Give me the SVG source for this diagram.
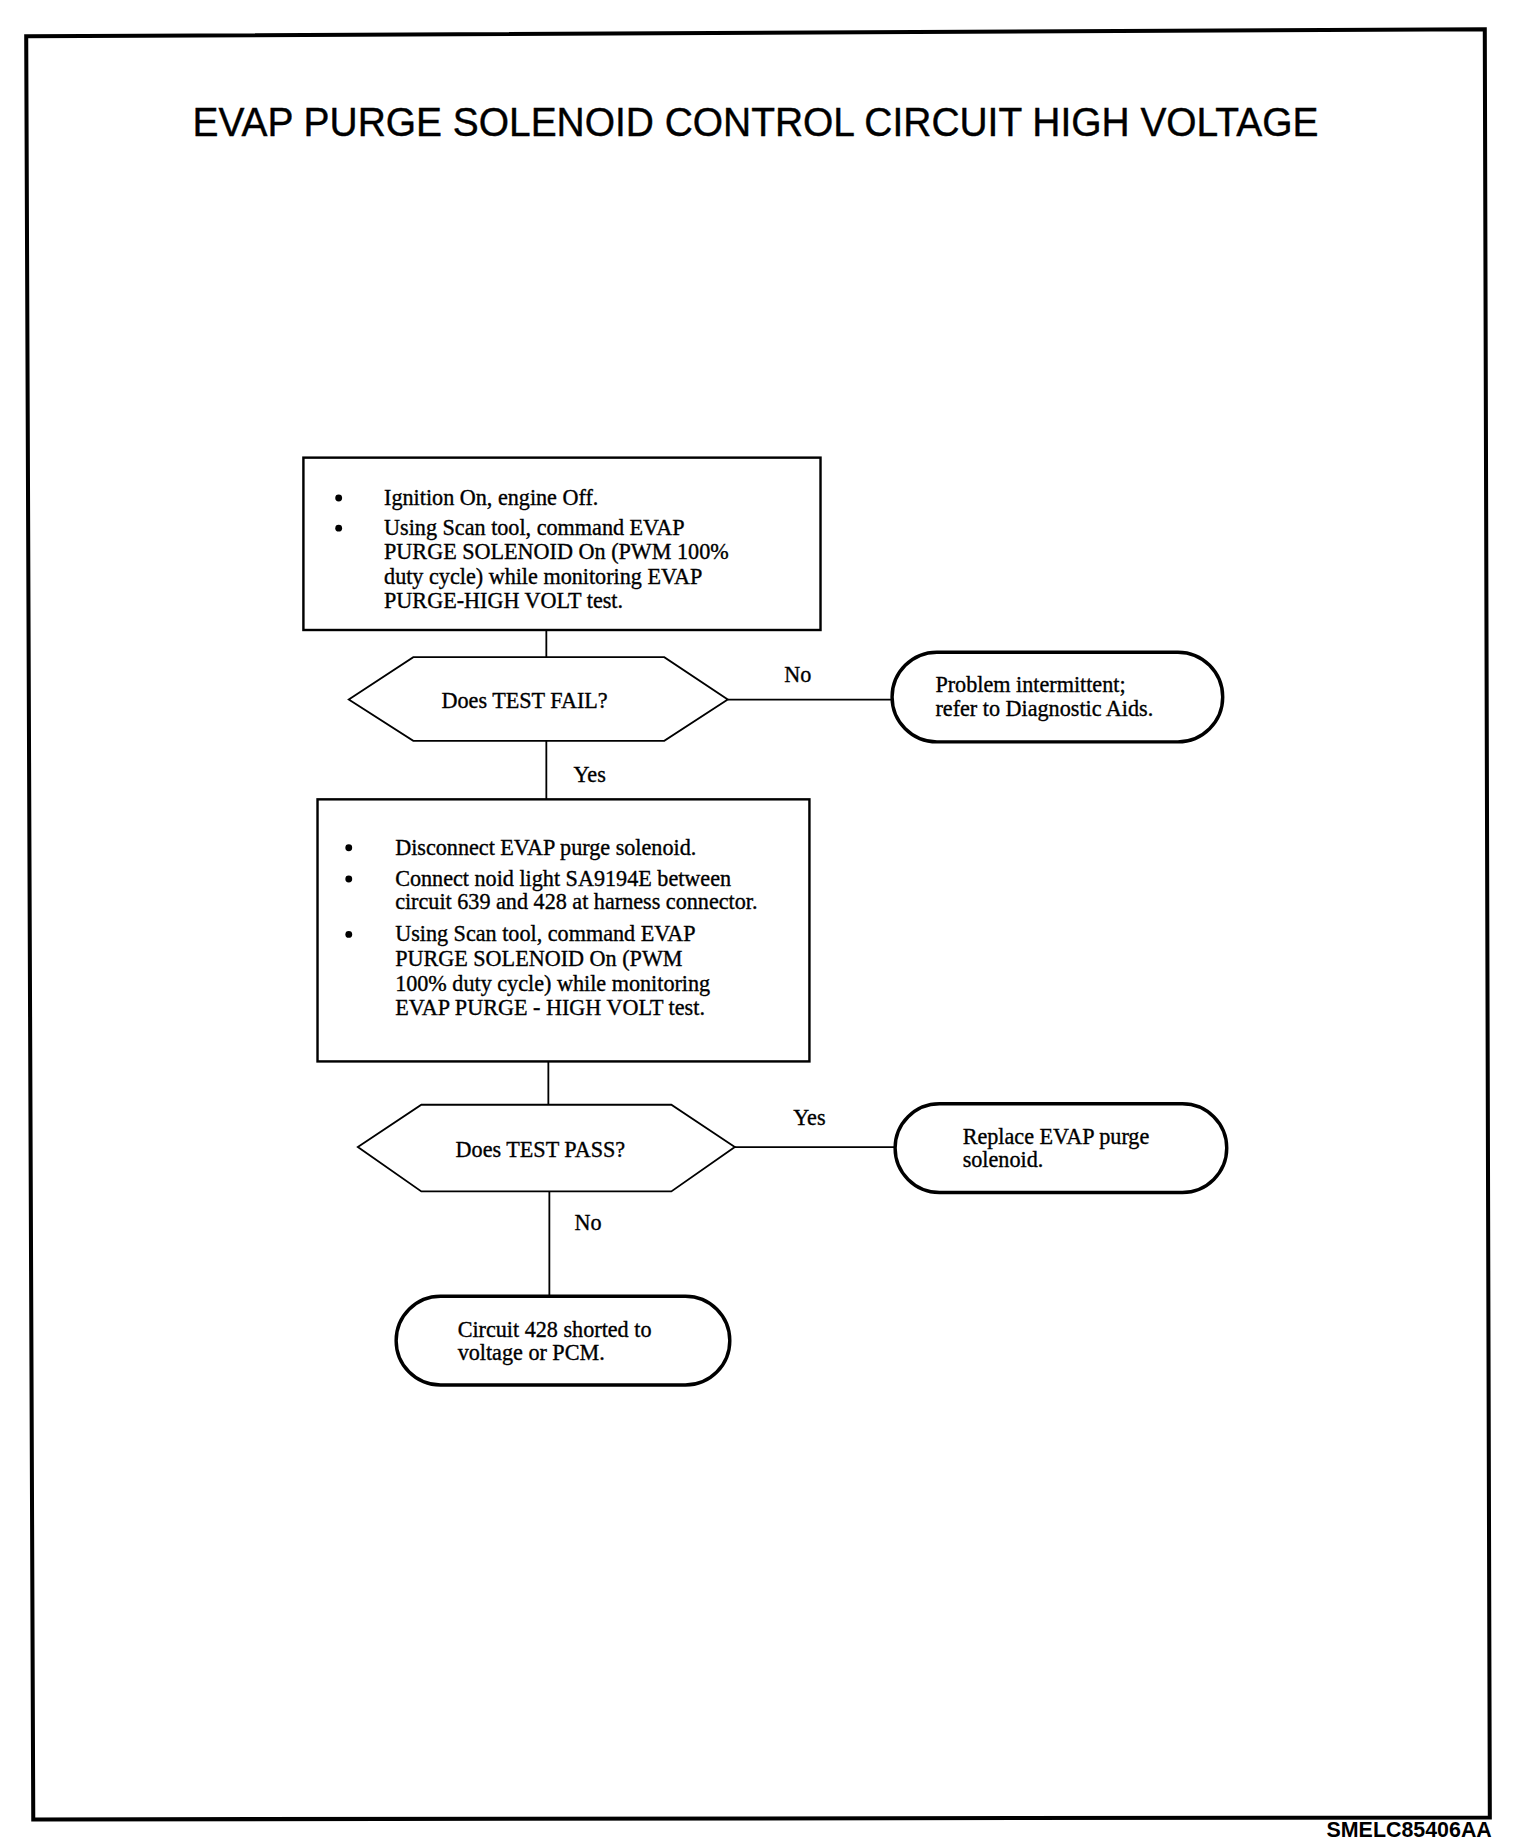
<svg xmlns="http://www.w3.org/2000/svg" width="1520" height="1848" viewBox="0 0 1520 1848">
<style>
.box{fill:none;stroke:#000;stroke-width:2.4}
.hex{fill:none;stroke:#000;stroke-width:1.8}
.oval{fill:none;stroke:#000;stroke-width:3.4}
.con{fill:none;stroke:#000;stroke-width:1.8}
.t{font-family:"Liberation Serif","Times New Roman",serif;font-size:22px;fill:#000;stroke:#000;stroke-width:0.35}
.lbl{font-family:"Liberation Serif","Times New Roman",serif;font-size:22px;fill:#000;stroke:#000;stroke-width:0.35}
.title{font-family:"Liberation Sans",Arial,sans-serif;font-size:40px;fill:#000;stroke:#000;stroke-width:0.4}
.foot{font-family:"Liberation Sans",Arial,sans-serif;font-size:21px;font-weight:bold;fill:#000}
</style>
<rect width="1520" height="1848" fill="#fff"/>
<g transform="scale(1.008)">
<polygon points="26,36 1473,29 1478,1803 33,1805" fill="none" stroke="#000" stroke-width="4"/>
<text class="title" x="191" y="135" textLength="1117" lengthAdjust="spacingAndGlyphs">EVAP PURGE SOLENOID CONTROL CIRCUIT HIGH VOLTAGE</text>
<g id="connectors">
<line class="con" x1="542" y1="625" x2="542" y2="652"/>
<line class="con" x1="722" y1="694" x2="885" y2="694"/>
<line class="con" x1="542" y1="735" x2="542" y2="793"/>
<line class="con" x1="544" y1="1053" x2="544" y2="1096"/>
<line class="con" x1="729" y1="1138" x2="888" y2="1138"/>
<line class="con" x1="545" y1="1182" x2="545" y2="1286"/>
<text class="lbl" x="778" y="677">No</text>
<text class="lbl" x="569" y="776">Yes</text>
<text class="lbl" x="787" y="1116">Yes</text>
<text class="lbl" x="570" y="1220">No</text>
</g>
<g id="step1">
<rect class="box" x="301" y="454" width="513" height="171"/>
<circle cx="336" cy="494" r="3.4"/>
<circle cx="336" cy="524" r="3.4"/>
<text class="t" x="381" y="501">Ignition On, engine Off.</text>
<text class="t" x="381" y="531">Using Scan tool, command EVAP</text>
<text class="t" x="381" y="555">PURGE SOLENOID On (PWM 100%</text>
<text class="t" x="381" y="579">duty cycle) while monitoring EVAP</text>
<text class="t" x="381" y="603">PURGE-HIGH VOLT test.</text>
</g>
<g id="decision1">
<polygon class="hex" points="346,694 410,652 659,652 722,694 659,735 410,735"/>
<text class="t" x="438" y="702">Does TEST FAIL?</text>
</g>
<g id="result1">
<rect class="oval" x="885" y="647" width="328" height="89" rx="44.5" ry="44.5"/>
<text class="t" x="928" y="687">Problem intermittent;</text>
<text class="t" x="928" y="710">refer to Diagnostic Aids.</text>
</g>
<g id="step2">
<rect class="box" x="315" y="793" width="488" height="260"/>
<circle cx="346" cy="841" r="3.4"/>
<circle cx="346" cy="872" r="3.4"/>
<circle cx="346" cy="927" r="3.4"/>
<text class="t" x="392" y="848">Disconnect EVAP purge solenoid.</text>
<text class="t" x="392" y="879">Connect noid light SA9194E between</text>
<text class="t" x="392" y="902">circuit 639 and 428 at harness connector.</text>
<text class="t" x="392" y="934">Using Scan tool, command EVAP</text>
<text class="t" x="392" y="958">PURGE SOLENOID On (PWM</text>
<text class="t" x="392" y="983">100% duty cycle) while monitoring</text>
<text class="t" x="392" y="1007">EVAP PURGE - HIGH VOLT test.</text>
</g>
<g id="decision2">
<polygon class="hex" points="355,1138 418,1096 666,1096 729,1138 666,1182 418,1182"/>
<text class="t" x="452" y="1148">Does TEST PASS?</text>
</g>
<g id="result2">
<rect class="oval" x="888" y="1095" width="329" height="88" rx="44" ry="44"/>
<text class="t" x="955" y="1135">Replace EVAP purge</text>
<text class="t" x="955" y="1158">solenoid.</text>
</g>
<g id="result3">
<rect class="oval" x="393" y="1286" width="331" height="88" rx="44" ry="44"/>
<text class="t" x="454" y="1326">Circuit 428 shorted to</text>
<text class="t" x="454" y="1349">voltage or PCM.</text>
</g>
<text class="foot" x="1316" y="1822" textLength="164" lengthAdjust="spacingAndGlyphs">SMELC85406AA</text>
</g>
</svg>
